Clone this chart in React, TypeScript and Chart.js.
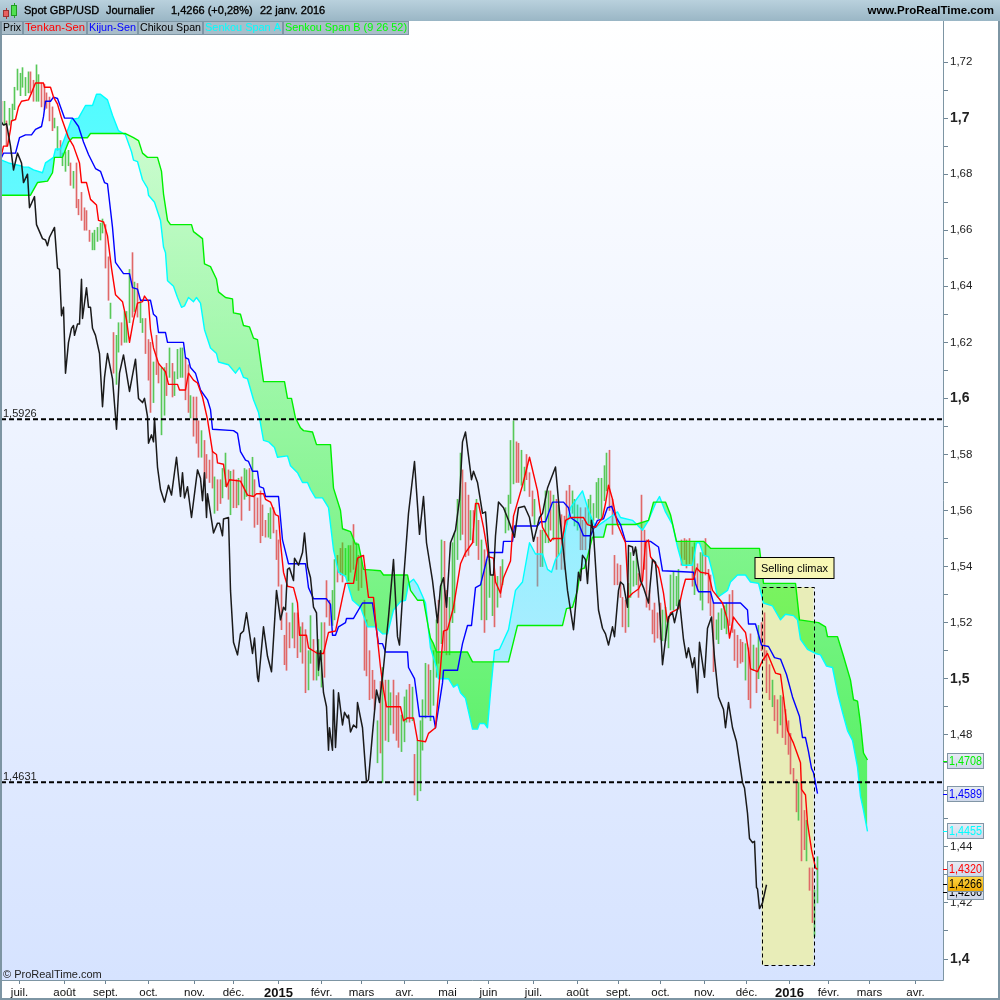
import React, { useEffect, useRef } from "react";
import { Chart, registerables } from "chart.js";

Chart.register(...registerables);

// Price bars, oldest first: [high, low, up(1)/down(0)]
const bars: number[][] = [
[1.706,1.698,0],[1.706,1.6975,1],[1.699,1.690,0],[1.7035,1.6975,1],[1.705,1.699,1],[1.711,1.703,1],[1.7175,1.710,1],[1.716,1.708,1],[1.718,1.711,1],
[1.7145,1.708,1],[1.7165,1.709,1],[1.7165,1.709,0],[1.7135,1.706,0],[1.719,1.706,1],[1.7155,1.706,1],[1.7125,1.704,0],[1.712,1.703,0],[1.709,1.7035,0],
[1.7075,1.699,0],[1.704,1.6955,0],[1.700,1.6965,1],[1.697,1.6885,1],[1.692,1.686,0],[1.6875,1.683,1],[1.688,1.681,1],[1.6885,1.683,1],[1.684,1.676,0],
[1.681,1.675,1],[1.684,1.668,0],[1.671,1.6655,0],[1.6735,1.6635,0],[1.668,1.660,0],[1.667,1.660,0],[1.660,1.656,0],[1.659,1.653,1],[1.660,1.653,1],
[1.661,1.656,1],[1.6625,1.6565,1],[1.664,1.659,1],[1.662,1.6465,0],[1.6505,1.635,0],[1.634,1.6285,1],[1.6235,1.609,0],[1.6225,1.605,1],[1.627,1.6165,1],
[1.627,1.619,0],[1.631,1.620,1],[1.631,1.620,1],[1.646,1.627,1],[1.652,1.629,0],[1.6415,1.631,1],[1.641,1.629,0],[1.6345,1.627,1],[1.6285,1.6235,1],
[1.6285,1.616,0],[1.621,1.6065,0],[1.620,1.595,0],[1.613,1.5985,1],[1.6225,1.6085,0],[1.6125,1.6055,0],[1.611,1.587,1],[1.611,1.594,1],[1.6125,1.601,0],
[1.618,1.6075,1],[1.6125,1.6005,0],[1.6095,1.601,1],[1.6175,1.607,1],[1.618,1.6075,1],[1.618,1.6075,1],[1.6145,1.5995,0],[1.612,1.595,0],[1.601,1.593,1],
[1.6005,1.5865,0],[1.6005,1.584,0],[1.592,1.579,0],[1.5885,1.579,1],[1.585,1.569,0],[1.58,1.5715,0],[1.578,1.570,0],[1.581,1.568,0],[1.572,1.559,1],
[1.571,1.560,0],[1.571,1.5625,0],[1.575,1.5645,1],[1.5805,1.5685,1],[1.5745,1.564,0],[1.574,1.5585,1],[1.5745,1.561,0],[1.571,1.561,0],[1.5715,1.562,1],
[1.572,1.5565,0],[1.575,1.564,1],[1.5745,1.565,1],[1.575,1.560,0],[1.579,1.565,1],[1.571,1.554,0],[1.5645,1.555,0],[1.567,1.5485,0],[1.562,1.551,0],
[1.5565,1.5505,0],[1.559,1.5505,1],[1.561,1.550,1],[1.561,1.552,0],[1.553,1.5425,0],[1.5495,1.533,0],[1.5335,1.5175,0],[1.5155,1.505,0],[1.5235,1.503,0],
[1.520,1.511,0],[1.527,1.5145,1],[1.5235,1.511,0],[1.5235,1.5075,0],[1.5185,1.5095,1],[1.520,1.5055,0],[1.5175,1.495,0],[1.510,1.496,1],[1.5225,1.5055,1],
[1.514,1.4995,0],[1.510,1.4995,1],[1.514,1.501,1],[1.520,1.497,1],[1.520,1.5005,0],[1.535,1.522,0],[1.528,1.519,0],[1.5315,1.519,1],[1.5425,1.521,1],
[1.544,1.5345,0],[1.5465,1.537,0],[1.5485,1.5345,0],[1.5465,1.537,1],[1.5475,1.535,1],[1.5475,1.538,0],[1.555,1.539,0],[1.5485,1.535,1],[1.544,1.5315,0],
[1.544,1.5325,0],[1.528,1.503,0],[1.521,1.501,0],[1.510,1.4925,0],[1.503,1.493,0],[1.4995,1.489,0],[1.485,1.470,1],[1.499,1.4735,0],[1.504,1.463,1],
[1.4995,1.478,0],[1.4995,1.4775,1],[1.495,1.4835,1],[1.4995,1.4805,0],[1.494,1.478,0],[1.495,1.4755,0],[1.487,1.474,1],[1.4935,1.4775,1],[1.496,1.4845,1],
[1.498,1.4845,0],[1.497,1.485,1],[1.473,1.4585,0],[1.478,1.4565,1],[1.485,1.460,1],[1.4925,1.4745,1],[1.5055,1.486,1],[1.505,1.487,0],[1.503,1.485,1],
[1.510,1.4905,1],[1.521,1.5005,1],[1.528,1.5055,0],[1.5495,1.5125,1],[1.549,1.510,0],[1.5315,1.5085,0],[1.529,1.5085,1],[1.5485,1.520,1],[1.552,1.5235,1],
[1.564,1.5425,1],[1.5805,1.5495,1],[1.5745,1.5515,0],[1.570,1.5435,0],[1.5655,1.544,0],[1.560,1.5495,1],[1.560,1.5485,0],[1.564,1.5475,1],[1.5565,1.5425,0],
[1.5495,1.521,1],[1.546,1.5165,0],[1.5425,1.521,1],[1.5425,1.529,1],[1.537,1.5225,1],[1.537,1.5185,0],[1.5365,1.5255,1],[1.540,1.529,0],[1.5425,1.5335,1],
[1.561,1.552,1],[1.5655,1.553,1],[1.585,1.5625,1],[1.592,1.5695,1],[1.5845,1.570,0],[1.584,1.570,0],[1.5815,1.569,1],[1.5755,1.567,1],[1.580,1.571,0],
[1.5735,1.565,0],[1.567,1.558,0],[1.564,1.555,1],[1.5505,1.533,0],[1.553,1.540,0],[1.553,1.540,1],[1.567,1.5485,1],[1.567,1.5485,1],[1.567,1.553,0],
[1.5655,1.5495,1],[1.564,1.539,0],[1.562,1.544,1],[1.5585,1.539,0],[1.558,1.539,0],[1.567,1.555,0],[1.569,1.560,0],[1.567,1.559,1],[1.564,1.5545,1],
[1.562,1.553,1],[1.561,1.546,0],[1.5565,1.546,0],[1.561,1.546,0],[1.564,1.555,1],[1.5655,1.5555,1],[1.5625,1.5565,1],[1.570,1.5575,1],[1.5715,1.557,1],
[1.5715,1.5565,1],[1.576,1.5635,1],[1.5805,1.567,1],[1.5815,1.560,0],[1.564,1.5515,0],[1.544,1.5335,0],[1.541,1.5335,0],[1.5405,1.529,0],[1.529,1.5185,0],
[1.528,1.5165,0],[1.534,1.5185,1],[1.545,1.529,1],[1.542,1.533,1],[1.546,1.5335,1],[1.5375,1.529,0],[1.5655,1.535,0],[1.553,1.539,0],[1.5495,1.5255,0],
[1.5315,1.5245,0],[1.5245,1.516,0],[1.527,1.513,0],[1.5235,1.5145,0],[1.527,1.514,0],[1.5245,1.5135,1],[1.5255,1.5135,1],[1.522,1.511,1],[1.537,1.5245,1],
[1.538,1.5245,1],[1.5365,1.526,1],[1.539,1.5255,1],[1.5495,1.5405,0],[1.550,1.5425,0],[1.5495,1.5395,0],[1.550,1.541,0],[1.547,1.533,0],[1.5485,1.530,1],
[1.541,1.5315,0],[1.545,1.528,1],[1.545,1.5245,1],[1.550,1.537,0],[1.539,1.527,0],[1.537,1.5225,0],[1.527,1.5025,0],[1.521,1.514,1],[1.5235,1.5125,1],
[1.525,1.5175,1],[1.526,1.518,1],[1.527,1.516,1],[1.530,1.519,0],[1.5315,1.5165,0],[1.5175,1.5065,0],[1.5155,1.504,0],[1.514,1.5055,0],[1.513,1.506,0],
[1.5125,1.4995,1],[1.511,1.4925,0],[1.516,1.4895,0],[1.512,1.503,1],[1.511,1.495,0],[1.519,1.500,1],[1.520,1.510,0],[1.5235,1.5065,0],[1.510,1.495,0],
[1.505,1.4925,0],[1.4995,1.490,1],[1.494,1.485,0],[1.4925,1.4805,0],[1.494,1.4835,1],[1.4935,1.479,0],[1.489,1.4765,0],[1.485,1.473,0],[1.4805,1.466,0],
[1.468,1.463,0],[1.464,1.4525,0],[1.463,1.4495,1],[1.463,1.435,0],[1.453,1.439,0],[1.4495,1.435,1],[1.4325,1.4245,0],[1.4325,1.413,0],[1.4245,1.408,1],[1.4365,1.420,1],
];
const lastBarSession = 408;
const barStep = 4 / 3;

// Lines: [session, price]
const tenkan: number[][] = [
[0,1.687],[1,1.690],[3,1.690],[4.5,1.696],[5,1.699],[7,1.6995],[8.5,1.704],[10,1.706],[13.5,1.7065],[15,1.709],[17,1.7125],[21,1.7125],[21.5,1.711],[24.5,1.711],[26,1.7075],[28,1.705],[30,1.70],[33.5,1.693],[36,1.690],[39,1.684],[40,1.677],[42.5,1.677],[44.5,1.671],[47.5,1.669],[48.5,1.6635],[51,1.663],[53,1.658],[55,1.6465],[57,1.637],[60.5,1.6345],[62.5,1.628],[64,1.620],[66,1.628],[68,1.634],[70.5,1.6345],[71.5,1.6365],[73.5,1.6345],[74.5,1.6245],[76,1.618],[78.5,1.6125],[82,1.6095],[83.5,1.605],[88,1.605],[89,1.603],[92,1.603],[93.5,1.609],[96,1.6065],[98,1.6055],[100.5,1.6005],[103,1.5925],[105.5,1.581],[107.5,1.580],[108,1.577],[111,1.5765],[112.5,1.5685],[114,1.571],[119.5,1.5705],[123,1.5655],[126,1.565],[127.5,1.566],[131,1.566],[132,1.564],[134.5,1.563],[137,1.5585],[138.5,1.558],[139.5,1.5485],[141,1.538],[143,1.533],[146,1.5325],[148,1.527],[149,1.5155],[152.5,1.5155],[153.5,1.511],[158,1.509],[161,1.509],[163.5,1.5165],[167,1.517],[170.5,1.529],[172,1.534],[176,1.534],[178,1.543],[181,1.544],[183.5,1.529],[186,1.529],[187,1.521],[189.5,1.504],[191,1.496],[192.5,1.490],[199.5,1.490],[201,1.485],[203,1.486],[206,1.486],[208,1.478],[212,1.4775],[213.5,1.4805],[217,1.4825],[219.5,1.504],[221,1.517],[223,1.5175],[226,1.5255],[229.5,1.541],[232,1.545],[235.5,1.5485],[237,1.5625],[238.5,1.5625],[241,1.554],[243.5,1.5435],[246,1.543],[247,1.5345],[249.5,1.5305],[251,1.536],[254.5,1.542],[256,1.558],[260.5,1.569],[264,1.579],[268,1.567],[270.5,1.554],[274.5,1.549],[275.5,1.550],[280.5,1.550],[282,1.5565],[284.5,1.5575],[291,1.5575],[293,1.555],[297,1.554],[300.5,1.5575],[302,1.5625],[303.5,1.569],[305.5,1.564],[308,1.555],[312,1.5485],[313.5,1.529],[315.5,1.5305],[318.5,1.532],[320.5,1.535],[322,1.5485],[323.5,1.5495],[324.5,1.5435],[328.5,1.5395],[331,1.5305],[333,1.520],[334.5,1.5235],[338.5,1.525],[340.5,1.5315],[342,1.5355],[346,1.5355],[347.5,1.5395],[349.5,1.538],[353.5,1.5375],[355.5,1.5315],[360.5,1.527],[363,1.521],[364,1.5145],[366,1.522],[368,1.520],[372,1.5165],[373.5,1.510],[374.5,1.5035],[378,1.5025],[380.5,1.5065],[383,1.509],[385,1.5055],[387,1.502],[389.5,1.5015],[391,1.4935],[393,1.4815],[396,1.477],[399.5,1.470],[400,1.4605],[402,1.4585],[403,1.4485],[405,1.439],[407,1.4325],[408,1.432],
];

const kijun: number[][] = [
[0,1.686],[1,1.6875],[7,1.6875],[9,1.693],[12,1.694],[15,1.694],[17,1.696],[20,1.697],[21,1.7005],[22,1.706],[24.5,1.706],[26,1.7075],[28,1.707],[31.5,1.70],[35.5,1.70],[38.5,1.697],[41,1.6915],[43.5,1.687],[47,1.682],[49.5,1.681],[51.5,1.677],[53,1.6765],[55.5,1.661],[57,1.6485],[61,1.6445],[64,1.6445],[65.5,1.6395],[68,1.639],[69.5,1.635],[74.5,1.635],[76,1.630],[77.5,1.629],[78.5,1.6235],[82,1.6235],[83,1.620],[91,1.620],[92,1.6145],[93.5,1.614],[94.5,1.611],[97,1.609],[99.5,1.603],[103,1.5995],[104.5,1.596],[105.5,1.589],[116,1.5885],[118,1.5875],[119.5,1.581],[122,1.578],[123.5,1.5775],[125.5,1.574],[128,1.574],[129,1.5685],[131,1.568],[132,1.565],[138.5,1.565],[140.5,1.5495],[143.5,1.541],[152,1.541],[153.5,1.5325],[156,1.5285],[162.5,1.5285],[164.5,1.5265],[165.5,1.5155],[167,1.5155],[168.5,1.5185],[172,1.520],[172.5,1.5215],[176,1.5215],[180.5,1.527],[185.5,1.527],[188.5,1.5125],[190.5,1.5125],[192,1.5095],[203,1.5095],[203.5,1.504],[206.5,1.500],[209,1.4865],[216,1.4865],[217,1.4825],[220.5,1.4985],[221,1.503],[228,1.503],[230.5,1.5125],[233,1.519],[235,1.519],[237,1.5325],[239.5,1.5335],[243.5,1.545],[250.5,1.545],[251,1.549],[255.5,1.549],[256.5,1.5545],[268,1.5545],[269.5,1.556],[272,1.556],[275.5,1.563],[281,1.563],[283.5,1.561],[284.5,1.5575],[288.5,1.5555],[291,1.551],[294.5,1.551],[298,1.5565],[301,1.557],[303,1.561],[305,1.5615],[307,1.558],[309.5,1.555],[312,1.549],[324.5,1.549],[328.5,1.547],[330.5,1.5385],[346,1.538],[347,1.534],[348.5,1.531],[354.5,1.531],[356,1.527],[369.5,1.527],[373,1.5245],[373.5,1.5195],[377,1.5195],[380,1.512],[383.5,1.5115],[386.5,1.5075],[389.5,1.507],[392.5,1.5015],[395.5,1.4935],[399,1.4865],[400.5,1.479],[402,1.479],[403.5,1.474],[405,1.468],[406,1.4665],[408,1.459],
];

const chikou: number[][] = [
[0,1.6985],[1,1.6975],[2.5,1.698],[4.5,1.690],[6,1.6815],[8,1.6875],[10,1.684],[11,1.677],[13,1.680],[14,1.668],[16.5,1.672],[17.5,1.662],[20.5,1.657],[22,1.6565],[23,1.6545],[24,1.6575],[26.5,1.661],[28,1.6465],[29,1.646],[30,1.6295],[31,1.6325],[32,1.609],[33.5,1.620],[35,1.625],[36,1.626],[36.5,1.6225],[38,1.6265],[39,1.6265],[40,1.6425],[40.5,1.6285],[42.5,1.6395],[43.5,1.6325],[44.5,1.6325],[45.5,1.625],[47,1.6225],[49,1.616],[50.5,1.597],[51.5,1.6075],[53,1.616],[55.5,1.607],[57.5,1.589],[59,1.609],[61,1.6155],[64,1.6025],[67,1.614],[68.5,1.600],[70.5,1.5985],[71.5,1.600],[73,1.5935],[73.5,1.584],[75,1.587],[76,1.5845],[76.5,1.593],[78,1.5755],[79.5,1.5675],[81.5,1.563],[83.5,1.569],[85,1.5655],[87.5,1.579],[89.5,1.565],[90.5,1.5735],[91.5,1.5645],[93,1.5685],[95,1.5575],[98,1.5745],[99.5,1.5715],[100.5,1.5635],[101.5,1.5735],[102.5,1.5575],[103,1.566],[106,1.552],[108,1.5555],[109,1.5555],[110.5,1.551],[111,1.557],[113.5,1.5575],[114.5,1.5315],[116,1.513],[118,1.5085],[119.5,1.516],[121,1.517],[122.5,1.5235],[125.5,1.509],[126.5,1.5145],[128,1.5005],[128.5,1.499],[131,1.5185],[133,1.508],[135,1.5025],[136,1.514],[137.5,1.5315],[139.5,1.521],[141,1.5255],[142,1.5245],[143,1.539],[144,1.5395],[146,1.535],[146.5,1.543],[148.5,1.5405],[150.5,1.545],[151.5,1.552],[153,1.540],[154.5,1.536],[156,1.5255],[157.5,1.5235],[158.5,1.503],[159.5,1.510],[161,1.495],[162.5,1.49],[163.5,1.4745],[164,1.4825],[165.5,1.4745],[166,1.496],[167,1.4755],[168.5,1.495],[170.5,1.4835],[171.5,1.488],[173,1.486],[173.5,1.487],[174.5,1.481],[176,1.4835],[177.5,1.4825],[178,1.4915],[180.5,1.4825],[182.5,1.463],[183.5,1.464],[185.5,1.4805],[187.5,1.496],[189,1.4915],[191,1.504],[193.5,1.522],[196,1.5425],[198,1.515],[199,1.512],[201,1.535],[203.5,1.559],[206.5,1.5775],[209,1.5515],[211,1.565],[212.5,1.5485],[215.5,1.535],[218,1.520],[219.5,1.533],[221,1.536],[222.5,1.5255],[224.5,1.5485],[227,1.553],[229,1.564],[230.5,1.5845],[232,1.588],[235,1.571],[236,1.574],[238,1.570],[240.5,1.559],[242,1.5595],[244.5,1.537],[246,1.537],[247,1.551],[248.5,1.563],[251,1.561],[253.5,1.5565],[256.5,1.5505],[258.5,1.561],[261.5,1.5615],[264,1.5575],[266,1.549],[269,1.5575],[270.5,1.559],[273,1.568],[277,1.5755],[279.5,1.5555],[283,1.5315],[286,1.5175],[288.5,1.538],[289.5,1.535],[290.5,1.544],[292,1.5425],[293,1.534],[295,1.5565],[296,1.552],[297.5,1.535],[298.5,1.5245],[300.5,1.518],[302,1.516],[303.5,1.512],[305.5,1.5185],[306.5,1.515],[308.5,1.5315],[309.5,1.5345],[311,1.5335],[313,1.5255],[313.5,1.5475],[315.5,1.547],[316,1.544],[317,1.547],[319.5,1.535],[321,1.5325],[323.5,1.527],[325.5,1.5425],[327,1.5415],[329,1.5255],[330.5,1.505],[332,1.514],[333.5,1.522],[335.5,1.5235],[336.5,1.520],[339,1.528],[341,1.514],[342.5,1.5075],[343.5,1.511],[345.5,1.504],[346.5,1.5075],[348,1.495],[349,1.513],[351.5,1.5005],[353,1.518],[355,1.522],[356.5,1.5075],[358.5,1.4935],[361,1.489],[362,1.4825],[363.5,1.4915],[365.5,1.4825],[367.5,1.4775],[370.5,1.463],[371.5,1.461],[373,1.452],[374,1.443],[375.5,1.4415],[376.5,1.442],[377.5,1.4255],[378,1.425],[379,1.418],[380.5,1.42],[382.5,1.4265],
];

const senkouA: number[][] = [
[0,1.685],[3.5,1.684],[9.5,1.683],[11,1.6825],[13.5,1.6825],[16,1.6815],[20.5,1.6805],[22,1.684],[26,1.686],[27,1.689],[29.5,1.689],[33.5,1.6965],[35,1.6995],[38.5,1.70],[42,1.7045],[45.5,1.7045],[47.5,1.7085],[49.5,1.7085],[53,1.7065],[55.5,1.701],[58.5,1.6955],[62,1.694],[65,1.688],[66,1.685],[68,1.6845],[70.5,1.678],[73,1.675],[73.5,1.6725],[76.5,1.670],[79.5,1.6635],[81,1.654],[82,1.652],[83,1.642],[86,1.64],[88,1.636],[90,1.6325],[91.5,1.633],[93.5,1.636],[96,1.6345],[97.5,1.636],[99.5,1.634],[101.5,1.6245],[104.5,1.618],[107.5,1.616],[108.5,1.613],[113.5,1.612],[117,1.609],[119,1.611],[121,1.6075],[123,1.607],[126,1.5995],[128.5,1.595],[131,1.585],[133.5,1.5845],[136.5,1.5825],[138,1.579],[143,1.5795],[144.5,1.576],[148,1.5735],[150.5,1.57],[153,1.570],[154.5,1.5675],[157,1.5645],[160.5,1.5645],[163.5,1.561],[166,1.546],[168.5,1.538],[172,1.5365],[175.5,1.528],[179.5,1.5255],[183,1.5185],[187,1.5185],[190.5,1.516],[193,1.516],[196,1.5245],[199.5,1.5275],[202,1.528],[203.5,1.534],[206,1.5355],[208,1.5335],[212,1.527],[214.5,1.511],[217.5,1.504],[218.5,1.50],[223.5,1.50],[226,1.497],[228,1.498],[229.5,1.495],[232,1.493],[235.5,1.482],[238,1.482],[239,1.484],[241.5,1.484],[243,1.4825],[244.5,1.495],[246.5,1.510],[249,1.5105],[253.5,1.5175],[257,1.5315],[260.5,1.5345],[264,1.5485],[267,1.5445],[270.5,1.5445],[273,1.539],[275,1.538],[277,1.5425],[279.5,1.545],[284.5,1.561],[290.5,1.567],[293.5,1.560],[297,1.554],[302,1.5565],[306,1.5585],[308,1.5595],[309.5,1.5575],[315.5,1.5565],[320.5,1.553],[323.5,1.5565],[327,1.5625],[329,1.565],[332,1.5595],[335.5,1.555],[338,1.547],[340.5,1.5405],[345.5,1.5405],[347.5,1.5485],[349,1.5485],[351,1.544],[353.5,1.5435],[356,1.5365],[358,1.529],[363,1.5315],[364.5,1.5345],[368,1.537],[372,1.537],[374.5,1.5345],[378.5,1.534],[381,1.527],[385.5,1.526],[389.5,1.521],[392,1.523],[396,1.5225],[398,1.521],[399.5,1.514],[403,1.5105],[407,1.509],[409.5,1.5085],[412.5,1.5045],[415.5,1.504],[418,1.495],[420.5,1.488],[423,1.4815],[425.5,1.478],[428,1.4685],[429.5,1.458],[431,1.453],[433,1.4455],
];

const senkouB: number[][] = [
[0,1.6725],[14.5,1.6725],[18,1.677],[23,1.6775],[25.5,1.6805],[26.5,1.686],[30.5,1.686],[33.5,1.6915],[35.5,1.693],[43,1.693],[44.5,1.6945],[62,1.6945],[66,1.693],[68.5,1.692],[70.5,1.6875],[73,1.686],[78,1.686],[80,1.681],[81,1.673],[83,1.6635],[84.5,1.662],[95,1.662],[96,1.6595],[100.5,1.657],[101.5,1.648],[104.5,1.647],[107.5,1.6425],[108.5,1.638],[112,1.636],[115.5,1.6355],[116,1.6305],[119.5,1.630],[121,1.626],[124,1.6255],[126,1.6215],[128,1.621],[131,1.606],[141.5,1.606],[143,1.600],[145,1.600],[147,1.593],[149.5,1.5895],[151,1.5885],[155.5,1.588],[157.5,1.5835],[164.5,1.5835],[166,1.568],[169.5,1.560],[170.5,1.5535],[174.5,1.5525],[177,1.548],[178.5,1.548],[181,1.539],[189.5,1.5385],[191,1.537],[203,1.537],[204.5,1.5315],[208,1.528],[211,1.528],[213.5,1.518],[214.5,1.5145],[216,1.5125],[217.5,1.5095],[233,1.5095],[235.5,1.506],[253.5,1.506],[258,1.519],[280.5,1.519],[282.5,1.525],[285.5,1.5255],[288,1.5315],[289.5,1.539],[291.5,1.5395],[293,1.5435],[295.5,1.5505],[301,1.5505],[302.5,1.555],[317,1.555],[323.5,1.5565],[326,1.563],[332,1.563],[334.5,1.5585],[337.5,1.549],[351,1.549],[354.5,1.5465],[379,1.5465],[381,1.534],[397,1.534],[399,1.521],[408.5,1.520],[412,1.5185],[413,1.515],[418,1.515],[421,1.508],[424.5,1.4995],[426,1.4925],[428,1.492],[429.5,1.484],[431,1.4735],[433,1.471],
];

const levels = [1.5926, 1.4631];
const monthLabels = ["juil.", "août", "sept.", "oct.", "nov.", "déc.", "2015", "févr.", "mars", "avr.", "mai", "juin", "juil.", "août", "sept.", "oct.", "nov.", "déc.", "2016", "févr.", "mars", "avr."];
const monthSessions = [9, 31.5, 52, 73.5, 96.5, 116, 138.5, 160, 180, 201.5, 223, 243.5, 266, 288, 308.5, 329.5, 351.5, 372.5, 394, 413.5, 434, 457];
const priceTicks = [1.40,1.41,1.42,1.43,1.44,1.45,1.46,1.47,1.48,1.49,1.50,1.51,1.52,1.53,1.54,1.55,1.56,1.57,1.58,1.59,1.60,1.61,1.62,1.63,1.64,1.65,1.66,1.67,1.68,1.69,1.70,1.71,1.72];
const coveredPriceLabels = [1.46];
const climaxSessions = [380, 406];
const climaxPrices = [1.5327, 1.3979];
const climaxNote = { text: "Selling climax" };
const legendItems = [
  { label: "Prix", color: "#000000", left: 2, right: 22 },
  { label: "Tenkan-Sen", color: "#ff0000", left: 24, right: 86 },
  { label: "Kijun-Sen", color: "#0000ff", left: 88, right: 137 },
  { label: "Chikou Span", color: "#000000", left: 139, right: 202 },
  { label: "Senkou Span A", color: "#00ffff", left: 204, right: 282 },
  { label: "Senkou Span B (9 26 52)", color: "#00ff00", left: 284, right: 408 },
];
const priceTags = [
  { value: 1.4708, text: "1,4708", color: "#00f000" },
  { value: 1.4589, text: "1,4589", color: "#0000ff" },
  { value: 1.4455, text: "1,4455", color: "#00ffff" },
  { value: 1.4240, text: "1,4266", color: "#000000" },
  { value: 1.4320, text: "1,4320", color: "#ff0000" },
];
const lastPrice = { value: 1.4266, text: "1,4266" };

const FONT = '"Liberation Sans", Arial, sans-serif';
const pts = (list: number[][]) => list.map(([x, y]) => ({ x, y }));
const isMajor = (v: number) => Math.abs(v * 10 - Math.round(v * 10)) < 1e-6;
const isEven = (v: number) => Math.abs(v * 50 - Math.round(v * 50)) < 1e-6;

const frame = {
  id: "frame",
  beforeDraw(c: any) {
    const { ctx, chartArea: a } = c;
    ctx.save();
    ctx.fillStyle = "#ffffff";
    ctx.fillRect(0, 0, 1000, 1000);
    const g = ctx.createLinearGradient(0, a.top, 0, a.bottom);
    g.addColorStop(0, "#ffffff");
    g.addColorStop(1, "#d6e3ff");
    ctx.fillStyle = g;
    ctx.fillRect(a.left, a.top, a.right - a.left, a.bottom - a.top);
    ctx.restore();
  },
  beforeDatasetsDraw(c: any) {
    const { ctx, scales } = c;
    const x0 = scales.x.getPixelForValue(climaxSessions[0]);
    const x1 = scales.x.getPixelForValue(climaxSessions[1]);
    const y0 = scales.y.getPixelForValue(climaxPrices[0]);
    const y1 = scales.y.getPixelForValue(climaxPrices[1]);
    ctx.save();
    ctx.fillStyle = "#e8edb8";
    ctx.fillRect(x0, y0, x1 - x0, y1 - y0);
    ctx.restore();
  },
  afterDatasetsDraw(c: any) {
    const { ctx, scales, chartArea: a } = c;
    const x0 = Math.round(scales.x.getPixelForValue(climaxSessions[0])) + 0.5;
    const x1 = Math.round(scales.x.getPixelForValue(climaxSessions[1])) + 0.5;
    const y0 = Math.round(scales.y.getPixelForValue(climaxPrices[0])) + 0.5;
    const y1 = Math.round(scales.y.getPixelForValue(climaxPrices[1])) + 0.5;
    ctx.save();
    ctx.strokeStyle = "#000";
    ctx.lineWidth = 1;
    ctx.setLineDash([4, 3]);
    ctx.strokeRect(x0, y0, x1 - x0, y1 - y0);
    ctx.setLineDash([]);
    const bx = x0 - 7.5, by = y0 - 30;
    ctx.fillStyle = "#f7f7b4";
    ctx.fillRect(bx, by, 79, 21);
    ctx.strokeRect(bx, by, 79, 21);
    ctx.fillStyle = "#000";
    ctx.font = `11px ${FONT}`;
    ctx.textAlign = "center";
    ctx.textBaseline = "middle";
    ctx.fillText(climaxNote.text, bx + 39.5, by + 11);
    ctx.fillStyle = "#222";
    ctx.textAlign = "left";
    levels.forEach((lv) => {
      const y = scales.y.getPixelForValue(lv);
      ctx.fillText(lv.toFixed(4).replace(".", ","), a.left + 2, y - 5.5);
    });
    ctx.textBaseline = "alphabetic";
    ctx.fillText("© ProRealTime.com", a.left + 2, a.bottom - 2);
    ctx.restore();
  },
  afterDraw(c: any) {
    const { ctx, scales, chartArea: a } = c;
    ctx.save();
    const h = ctx.createLinearGradient(0, 0, 0, 21);
    h.addColorStop(0, "#b9d1dd");
    h.addColorStop(1, "#9ab6c5");
    ctx.fillStyle = h;
    ctx.fillRect(0, 0, 1000, 21);
    ctx.fillStyle = "#a33";
    ctx.fillRect(6, 8, 1, 11);
    ctx.fillStyle = "#e86060";
    ctx.fillRect(3, 10, 6, 7);
    ctx.strokeStyle = "#933";
    ctx.strokeRect(3.5, 10.5, 5, 6);
    ctx.fillStyle = "#2a2";
    ctx.fillRect(14, 3, 1, 15);
    ctx.fillStyle = "#50e050";
    ctx.fillRect(11, 5, 6, 11);
    ctx.strokeStyle = "#292";
    ctx.strokeRect(11.5, 5.5, 5, 10);
    ctx.fillStyle = "#000";
    ctx.strokeStyle = "#000";
    ctx.lineWidth = 0.35;
    ctx.font = `11px ${FONT}`;
    ctx.textBaseline = "middle";
    ctx.textAlign = "left";
    [["Spot GBP/USD", 24], ["Journalier", 106], ["1,4266 (+0,28%)", 171], ["22 janv. 2016", 260]].forEach(([t, x]: any) => {
      ctx.fillText(t, x, 11);
      ctx.strokeText(t, x, 11);
    });
    ctx.textAlign = "right";
    ctx.font = `bold 11.5px ${FONT}`;
    ctx.fillText("www.ProRealTime.com", 994, 11);
    ctx.lineWidth = 1;
    ctx.textAlign = "center";
    ctx.font = `11.5px ${FONT}`;
    legendItems.forEach((it) => {
      ctx.fillStyle = "#a9bdc9";
      ctx.fillRect(it.left - 1, 21, it.right - it.left + 2, 14);
      ctx.strokeStyle = "#7f97a6";
      ctx.strokeRect(it.left - 0.5, 21.5, it.right - it.left + 1, 13);
      ctx.fillStyle = it.color;
      ctx.fillText(it.label, (it.left + it.right) / 2, 28, it.right - it.left - 2);
    });
    ctx.strokeStyle = "#7d95a3";
    ctx.lineWidth = 2;
    ctx.beginPath();
    ctx.moveTo(1, 21); ctx.lineTo(1, 999); ctx.lineTo(999, 999); ctx.lineTo(999, 21);
    ctx.stroke();
    ctx.lineWidth = 1;
    ctx.beginPath();
    ctx.moveTo(a.right + 0.5, 21); ctx.lineTo(a.right + 0.5, a.bottom + 0.5); ctx.lineTo(1, a.bottom + 0.5);
    ctx.stroke();
    ctx.textAlign = "center";
    ctx.font = `12px ${FONT}`;
    priceTags.forEach((t) => {
      const y = Math.round(scales.y.getPixelForValue(t.value));
      ctx.strokeStyle = t.color;
      ctx.beginPath();
      ctx.moveTo(a.right, y + 0.5); ctx.lineTo(a.right + 5, y + 0.5);
      ctx.stroke();
      const g = ctx.createLinearGradient(0, y - 8, 0, y + 8);
      g.addColorStop(0, "#e8ecf4");
      g.addColorStop(1, "#cdd7ea");
      ctx.fillStyle = g;
      ctx.fillRect(947.5, y - 7.5, 36, 15);
      ctx.strokeStyle = "#8296a6";
      ctx.strokeRect(947.5, y - 7.5, 36, 15);
      ctx.fillStyle = t.color;
      ctx.fillText(t.text, 965.5, y + 0.5, 33);
    });
    const ly = Math.round(scales.y.getPixelForValue(lastPrice.value));
    ctx.strokeStyle = "#000";
    ctx.beginPath();
    ctx.moveTo(a.right, ly + 0.5); ctx.lineTo(a.right + 5, ly + 0.5);
    ctx.stroke();
    const og = ctx.createLinearGradient(0, ly - 8, 0, ly + 8);
    og.addColorStop(0, "#ffd84a");
    og.addColorStop(1, "#eda800");
    ctx.fillStyle = og;
    ctx.fillRect(947.5, ly - 7.5, 36, 15);
    ctx.strokeStyle = "#8296a6";
    ctx.strokeRect(947.5, ly - 7.5, 36, 15);
    ctx.fillStyle = "#000";
    ctx.fillText(lastPrice.text, 965.5, ly + 0.5, 33);
    ctx.restore();
  },
};

export default function App() {
  const ref = useRef<HTMLCanvasElement>(null);
  useEffect(() => {
    document.body.style.margin = "0";
    const canvas = ref.current!;
    const ctx = canvas.getContext("2d")!;
    const greenFill = ctx.createLinearGradient(0, 0, 0, 1000);
    greenFill.addColorStop(0, "rgba(0,255,0,0.10)");
    greenFill.addColorStop(1, "rgba(0,245,0,0.74)");
    const cyanFill = ctx.createLinearGradient(0, 0, 0, 1000);
    cyanFill.addColorStop(0, "rgba(0,255,255,0.75)");
    cyanFill.addColorStop(1, "rgba(0,225,255,0.0)");

    const lineBase = { type: "line", pointRadius: 0, tension: 0, fill: false, borderJoinStyle: "round" };
    const chart = new Chart(canvas, {
      type: "line",
      data: {
        datasets: [
          {
            type: "bar",
            label: "Prix",
            data: bars.map((b, i) => ({
              x: Math.round((lastBarSession - (bars.length - 1 - i) * barStep) * 2) / 2,
              y: [b[1], b[0]],
            })),
            backgroundColor: bars.map((b) => (b[2] ? "#58c858" : "#e06868")),
            barThickness: 1,
            grouped: false,
            order: 7,
          },
          { ...lineBase, label: "Senkou Span A", data: pts(senkouA), borderColor: "#00ffff", borderWidth: 1.4, order: 6, fill: { target: "+1", above: cyanFill, below: greenFill } },
          { ...lineBase, label: "Senkou Span B", data: pts(senkouB), borderColor: "#00f000", borderWidth: 1.4, order: 5 },
          { ...lineBase, label: "Kijun-Sen", data: pts(kijun), borderColor: "#0000ff", borderWidth: 1.4, order: 4 },
          { ...lineBase, label: "Tenkan-Sen", data: pts(tenkan), borderColor: "#ff0000", borderWidth: 1.4, order: 3 },
          { ...lineBase, label: "Chikou Span", data: pts(chikou), borderColor: "#1a1a1a", borderWidth: 1.5, order: 2 },
          ...levels.map((lv) => ({
            ...lineBase,
            label: "level",
            data: [{ x: -0.25, y: lv }, { x: 470.75, y: lv }],
            borderColor: "#000",
            borderWidth: 2,
            borderDash: [5, 3],
            order: 1,
          })),
        ] as any,
      },
      options: {
        responsive: false,
        animation: false,
        events: [],
        layout: { padding: { left: 1, top: 21, right: 0, bottom: 0 } },
        plugins: { legend: { display: false }, tooltip: { enabled: false }, title: { display: false } },
        scales: {
          x: {
            type: "linear",
            offset: false,
            min: -0.25,
            max: 470.75,
            afterFit: (s: any) => { s.height = 20; },
            afterBuildTicks: (s: any) => { s.ticks = monthSessions.map((value) => ({ value })); },
            border: { display: false },
            grid: { offset: false, drawOnChartArea: false, drawTicks: true, tickLength: 4, color: "#6f8595" },
            ticks: {
              autoSkip: false,
              maxRotation: 0,
              minRotation: 0,
              padding: 2,
              color: "#111",
              callback: (v: any) => monthLabels[monthSessions.indexOf(Number(v))] ?? "",
              font: (c: any) => {
                const l = monthLabels[monthSessions.indexOf(c.tick?.value)];
                return l === "2015" || l === "2016"
                  ? { family: FONT, size: 13, weight: "bold" }
                  : { family: FONT, size: 11.5 };
              },
            },
          },
          y: {
            type: "linear",
            position: "right",
            min: 1.39251,
            max: 1.73464,
            afterFit: (s: any) => { s.width = 57; },
            afterBuildTicks: (s: any) => { s.ticks = priceTicks.map((value) => ({ value })); },
            border: { display: false },
            grid: { drawOnChartArea: false, drawTicks: true, tickLength: 5, color: "#6f8595" },
            ticks: {
              autoSkip: false,
              padding: 2,
              color: "#222",
              callback: (v: any) => {
                const n = Number(v);
                if (!isEven(n) || coveredPriceLabels.includes(n)) return "";
                return isMajor(n) ? n.toFixed(1).replace(".", ",") : n.toFixed(2).replace(".", ",");
              },
              font: (c: any) =>
                isMajor(c.tick?.value ?? 0)
                  ? { family: FONT, size: 14, weight: "bold" }
                  : { family: FONT, size: 11.5 },
            },
          },
        },
      } as any,
      plugins: [frame],
    });
    return () => chart.destroy();
  }, []);
  return <canvas ref={ref} width={1000} height={1000} style={{ display: "block" }} />;
}
